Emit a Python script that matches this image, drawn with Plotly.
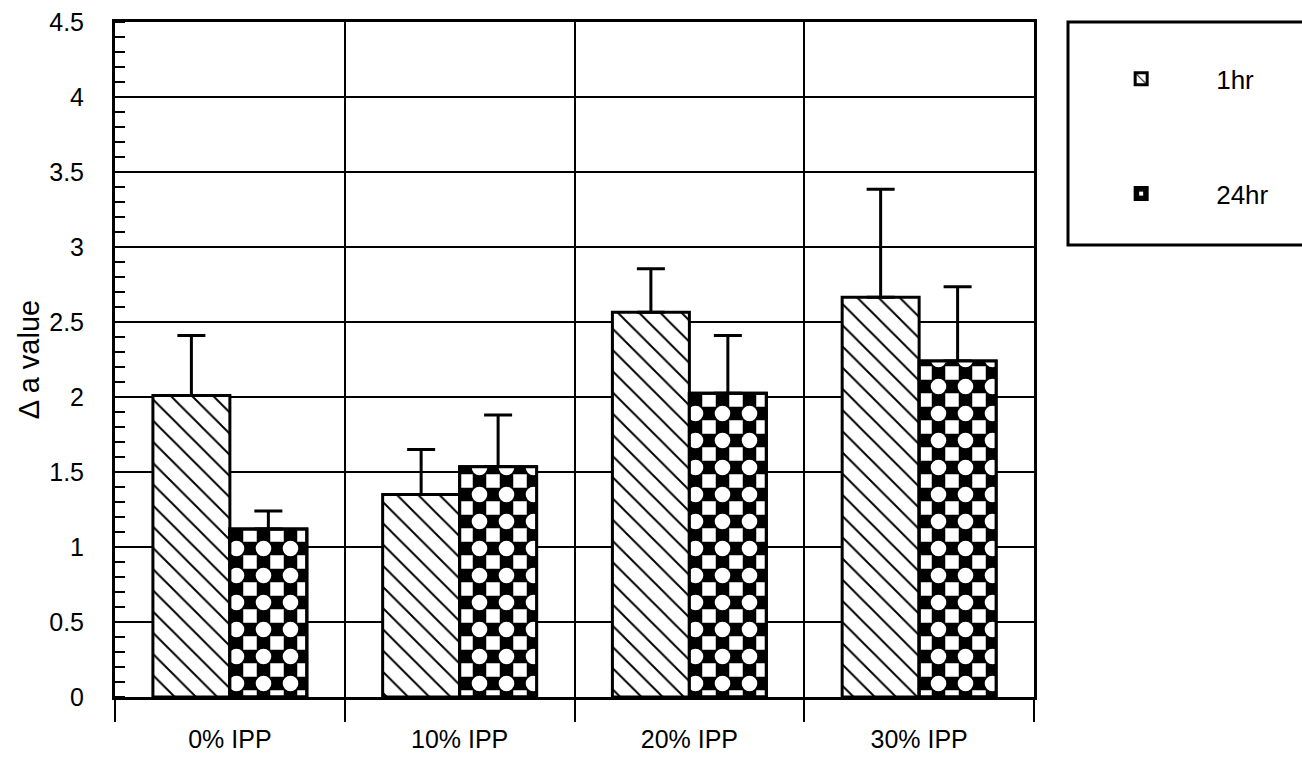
import plotly.graph_objects as go

categories = ["0% IPP", "10% IPP", "20% IPP", "30% IPP"]
hr1_values = [2.01, 1.35, 2.565, 2.665]
hr1_err = [0.40, 0.30, 0.29, 0.72]
hr24_values = [1.12, 1.535, 2.025, 2.24]
hr24_err = [0.12, 0.345, 0.385, 0.495]
series_names = ["1hr", "24hr"]
y_ticks = [0, 0.5, 1, 1.5, 2, 2.5, 3, 3.5, 4, 4.5]
y_ticklabels = ["0", "0.5", "1", "1.5", "2", "2.5", "3", "3.5", "4", "4.5"]

W, H = 1302, 757
L, R, T, B = 115, 268, 22, 60
BAR_W = 0.335
FONT = "Liberation Sans, Arial, sans-serif"

fig = go.Figure()

# 1hr: diagonal hatch
fig.add_trace(go.Bar(
    x=categories, y=hr1_values, name=series_names[0],
    width=BAR_W, offset=-BAR_W,
    marker=dict(color="white", line=dict(color="black", width=3),
                pattern=dict(shape="\\", fgcolor="black", bgcolor="white",
                             fgopacity=1, size=15, solidity=0.13)),
    error_y=dict(type="data", array=hr1_err, arrayminus=[0] * len(hr1_err),
                 symmetric=False, color="black", thickness=3, width=14),
    legendgroup="a",
))

# 24hr: checkerboard built from two overlaid patterns
fig.add_trace(go.Bar(
    x=categories, y=hr24_values, name=series_names[1],
    width=BAR_W, offset=0,
    marker=dict(color="black", line=dict(color="black", width=3),
                pattern=dict(shape="+", fgcolor="black", bgcolor="white",
                             fgopacity=1, size=27, solidity=0.75)),
    error_y=dict(type="data", array=hr24_err, arrayminus=[0] * len(hr24_err),
                 symmetric=False, color="black", thickness=3, width=14),
    legendgroup="b",
))
fig.add_trace(go.Bar(
    x=categories, y=hr24_values, name=series_names[1],
    width=BAR_W, offset=0, showlegend=False, hoverinfo="skip",
    marker=dict(color="rgba(0,0,0,0)", line=dict(color="black", width=3),
                pattern=dict(shape=".", fgcolor="white", bgcolor="rgba(0,0,0,0)",
                             fgopacity=1, size=27, solidity=0.26)),
    legendgroup="b",
))

fig.update_layout(
    width=W, height=H,
    margin=dict(l=L, r=R, t=T, b=B, pad=0),
    paper_bgcolor="white", plot_bgcolor="white",
    barmode="overlay",
    font=dict(family=FONT, color="black", size=24),
    showlegend=True,
    legend=dict(
        x=1.035, y=0.9505, xanchor="left", yanchor="top",
        bgcolor="rgba(0,0,0,0)", borderwidth=0,
        font=dict(size=26, family=FONT),
        itemwidth=140, tracegroupgap=78, traceorder="grouped",
    ),
    shapes=[dict(type="rect", xref="paper", yref="paper",
                 x0=(1068 - L) / (W - L - R), x1=(1310 - L) / (W - L - R),
                 y0=1 - (245 - T) / (H - T - B), y1=1.0,
                 line=dict(color="black", width=3), fillcolor="rgba(0,0,0,0)",
                 layer="above")],
)

fig.update_xaxes(
    type="category", range=[-0.5, 3.5], automargin=False,
    tickson="boundaries", ticks="outside", ticklen=22, tickwidth=2, tickcolor="black",
    showgrid=True, gridcolor="black", gridwidth=2,
    showline=True, linecolor="black", linewidth=3, mirror=True,
    tickfont=dict(size=25, family=FONT), ticklabelstandoff=18,
)

fig.update_yaxes(
    range=[0, 4.5], tickvals=y_ticks, ticktext=y_ticklabels, automargin=False,
    ticks="", showgrid=True, gridcolor="black", gridwidth=2,
    showline=True, linecolor="black", linewidth=3, mirror=True,
    zeroline=False,
    minor=dict(ticks="inside", dtick=0.1, ticklen=10, tickwidth=1.5,
               tickcolor="black", showgrid=False),
    tickfont=dict(size=25, family=FONT), ticklabelstandoff=23,
    title=dict(text="Δ a value", font=dict(size=29, family=FONT), standoff=2),
)

fig.write_html("out.html")
